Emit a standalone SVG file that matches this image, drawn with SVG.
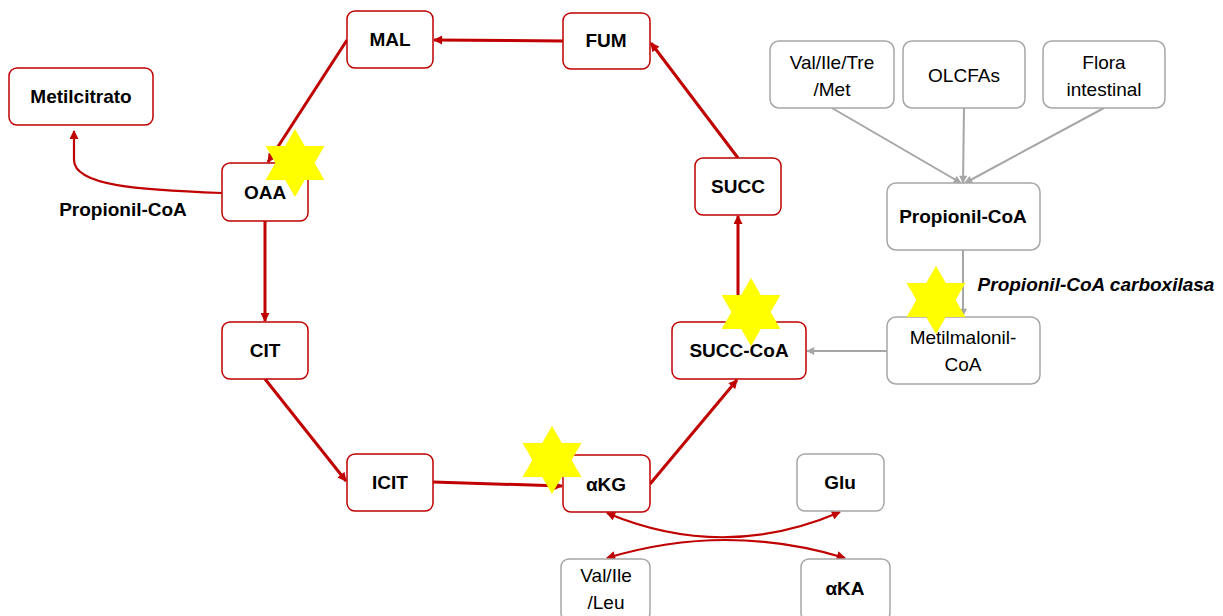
<svg xmlns="http://www.w3.org/2000/svg" width="1223" height="616" viewBox="0 0 1223 616">
  <style>
    .box-red { fill: #ffffff; stroke: #C00000; stroke-width: 1.5; }
    .box-gray { fill: #ffffff; stroke: #A6A6A6; stroke-width: 1.5; }
    .lbl { font-family: "Liberation Sans", Arial, sans-serif; font-size: 19px; fill: #000; text-anchor: middle; }
    .b { font-weight: bold; }
    .red { fill: none; stroke: #C00000; stroke-width: 3; }
    .red-thin { fill: none; stroke: #C00000; stroke-width: 2.2; }
    .gray { fill: none; stroke: #A6A6A6; stroke-width: 2; }
    .star { fill: #FFFF00; }
  </style>
  <defs>
    <marker id="arrRed" viewBox="0 0 10 10" refX="9" refY="5" markerWidth="10" markerHeight="9" markerUnits="userSpaceOnUse" orient="auto-start-reverse">
      <path d="M0,0 L10,5 L0,10 z" fill="#C00000"/>
    </marker>
    <marker id="arrGray" viewBox="0 0 10 10" refX="9" refY="5" markerWidth="9" markerHeight="8" markerUnits="userSpaceOnUse" orient="auto">
      <path d="M0,0 L10,5 L0,10 z" fill="#A6A6A6"/>
    </marker>
    <!-- six-pointed star, radius 34 -->
    <g id="hexagram">
      <polygon points="0,-34 29.4,17 -29.4,17"/>
      <polygon points="0,34 29.4,-17 -29.4,-17"/>
    </g>
  </defs>

  <!-- connectors -->
  <g id="connectors">
    <!-- cycle -->
    <line class="red" x1="563" y1="41" x2="434" y2="40" marker-end="url(#arrRed)"/>
    <line class="red" x1="347" y1="40" x2="268" y2="162" marker-end="url(#arrRed)"/>
    <line class="red" x1="265" y1="221" x2="265" y2="321" marker-end="url(#arrRed)"/>
    <line class="red" x1="265" y1="379" x2="346" y2="481" marker-end="url(#arrRed)"/>
    <line class="red" x1="433" y1="482" x2="562" y2="486" stroke-width="4" marker-end="url(#arrRed)"/>
    <line class="red" x1="650" y1="484" x2="737" y2="380" marker-end="url(#arrRed)"/>
    <line class="red" x1="738" y1="322" x2="738" y2="216" marker-end="url(#arrRed)"/>
    <line class="red" x1="738" y1="158" x2="651" y2="43" marker-end="url(#arrRed)"/>
    <!-- OAA to Metilcitrato -->
    <path class="red-thin" d="M222,193 C140,190 74,186 74,160 L74,131" marker-end="url(#arrRed)"/>
    <!-- transamination -->
    <path class="red-thin" d="M607,513 Q724,562 840,512" marker-start="url(#arrRed)" marker-end="url(#arrRed)"/>
    <path class="red-thin" d="M607,558 Q726,522 845,558" marker-start="url(#arrRed)" marker-end="url(#arrRed)"/>
    <!-- propionyl pathway -->
    <line class="gray" x1="832" y1="108" x2="961" y2="183" marker-end="url(#arrGray)"/>
    <line class="gray" x1="964" y1="108" x2="963" y2="183" marker-end="url(#arrGray)"/>
    <line class="gray" x1="1104" y1="108" x2="965" y2="183" marker-end="url(#arrGray)"/>
    <line class="gray" x1="963" y1="250" x2="963" y2="316" marker-end="url(#arrGray)"/>
    <line class="gray" x1="887" y1="351" x2="807" y2="351" marker-end="url(#arrGray)"/>
  </g>

  <!-- cycle nodes -->
  <g id="node-mal"><rect class="box-red" x="347" y="11" width="86" height="57" rx="8"/><text class="lbl b" x="390" y="46">MAL</text></g>
  <g id="node-fum"><rect class="box-red" x="563" y="13" width="87" height="56" rx="8"/><text class="lbl b" x="606" y="47">FUM</text></g>
  <g id="node-metilcitrato"><rect class="box-red" x="9" y="68" width="144" height="57" rx="8"/><text class="lbl b" x="81" y="103">Metilcitrato</text></g>
  <g id="node-oaa"><rect class="box-red" x="222" y="163" width="86" height="58" rx="8"/><text class="lbl b" x="265" y="199">OAA</text></g>
  <g id="node-succ"><rect class="box-red" x="695" y="158" width="86" height="57" rx="8"/><text class="lbl b" x="738" y="193">SUCC</text></g>
  <g id="node-cit"><rect class="box-red" x="222" y="322" width="86" height="57" rx="8"/><text class="lbl b" x="265" y="357">CIT</text></g>
  <g id="node-succcoa"><rect class="box-red" x="672" y="322" width="134" height="57" rx="8"/><text class="lbl b" x="739" y="357">SUCC-CoA</text></g>
  <g id="node-icit"><rect class="box-red" x="347" y="454" width="86" height="57" rx="8"/><text class="lbl b" x="390" y="489">ICIT</text></g>
  <g id="node-akg"><rect class="box-red" x="563" y="455" width="87" height="57" rx="8"/><text class="lbl b" x="606" y="491">αKG</text></g>

  <!-- amino acid nodes -->
  <g id="node-glu"><rect class="box-gray" x="797" y="454" width="87" height="57" rx="8"/><text class="lbl b" x="840" y="489">Glu</text></g>
  <g id="node-valileleu"><rect class="box-gray" x="561" y="559" width="89" height="62" rx="8"/><text class="lbl" x="606" y="582">Val/Ile</text><text class="lbl" x="606" y="609">/Leu</text></g>
  <g id="node-aka"><rect class="box-gray" x="801" y="559" width="89" height="62" rx="8"/><text class="lbl b" x="845" y="595">αKA</text></g>

  <!-- propionyl sources -->
  <g id="node-valiletremet"><rect class="box-gray" x="770" y="41" width="124" height="67" rx="9"/><text class="lbl" x="832" y="69">Val/Ile/Tre</text><text class="lbl" x="832" y="96">/Met</text></g>
  <g id="node-olcfas"><rect class="box-gray" x="903" y="41" width="122" height="67" rx="9"/><text class="lbl" x="964" y="82">OLCFAs</text></g>
  <g id="node-flora"><rect class="box-gray" x="1043" y="41" width="122" height="67" rx="9"/><text class="lbl" x="1104" y="69">Flora</text><text class="lbl" x="1104" y="96">intestinal</text></g>
  <g id="node-propionilcoa"><rect class="box-gray" x="887" y="183" width="153" height="67" rx="9"/><text class="lbl b" x="963" y="223">Propionil-CoA</text></g>
  <g id="node-metilmalonilcoa"><rect class="box-gray" x="887" y="317" width="153" height="67" rx="9"/><text class="lbl" x="963" y="344">Metilmalonil-</text><text class="lbl" x="963" y="371">CoA</text></g>

  <!-- free labels -->
  <g id="labels">
    <text class="lbl b" x="123" y="216">Propionil-CoA</text>
    <text class="lbl b" x="1096" y="291" font-style="italic">Propionil-CoA carboxilasa</text>
  </g>

  <!-- enzyme markers -->
  <g id="stars" class="star">
    <use href="#hexagram" x="295" y="163"/>
    <use href="#hexagram" x="751" y="312"/>
    <use href="#hexagram" x="936" y="300"/>
    <use href="#hexagram" x="552" y="460"/>
  </g>
</svg>
